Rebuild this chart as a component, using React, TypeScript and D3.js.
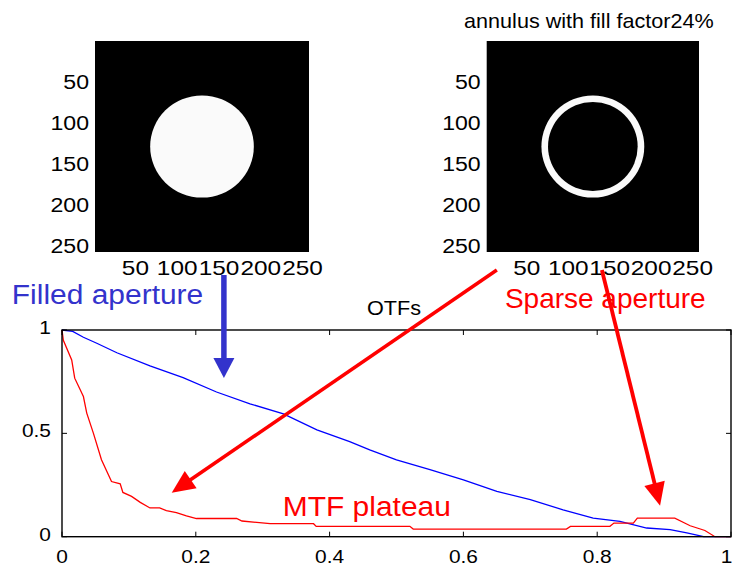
import React from "react";
import * as d3 from "d3";

// ---------- data ----------
const imageTicks = [50, 100, 150, 200, 250];
const imageSize = 256;
const apertureCenter = 128.5;
const apertureRadius = 62;
const fillFactor = 0.24;

const otfXTicks = [0, 0.2, 0.4, 0.6, 0.8, 1];
const otfYTicks = [0, 0.5, 1];
const otfXTickLabels = ["0", "0.2", "0.4", "0.6", "0.8", "1"];
const otfYTickLabels = ["0", "0.5", "1"];

const filledX = [0, 0.016, 0.032, 0.052, 0.082, 0.1315, 0.181, 0.231, 0.281, 0.331, 0.381, 0.43, 0.46, 0.5, 0.55, 0.6, 0.65, 0.7, 0.749, 0.794, 0.834, 0.874, 0.909, 0.934, 0.959, 1.0];
const filledY = [1.0, 0.993, 0.965, 0.936, 0.89, 0.826, 0.77, 0.7, 0.643, 0.594, 0.517, 0.46, 0.42, 0.372, 0.324, 0.275, 0.219, 0.179, 0.13, 0.09, 0.074, 0.042, 0.034, 0.018, 0, 0];

const sparseX = [0, 0.002, 0.0145, 0.019, 0.032, 0.037, 0.047, 0.059, 0.074, 0.087, 0.091, 0.104, 0.117, 0.1315, 0.146, 0.156, 0.171, 0.186, 0.201, 0.261, 0.269, 0.311, 0.376, 0.38, 0.52, 0.525, 0.754, 0.76, 0.819, 0.825, 0.854, 0.86, 0.916, 0.939, 0.961, 0.976, 1.0];
const sparseY = [1.0, 0.95, 0.855, 0.767, 0.678, 0.598, 0.5, 0.372, 0.267, 0.256, 0.214, 0.195, 0.166, 0.139, 0.139, 0.126, 0.117, 0.101, 0.088, 0.088, 0.076, 0.063, 0.063, 0.05, 0.05, 0.037, 0.037, 0.05, 0.05, 0.066, 0.066, 0.09, 0.09, 0.053, 0.03, 0, 0];

// annotation arrows in OTF data coordinates: [x0, y0, x1(tip), y1(tip)]
const blueArrow = [0.242, 1.266, 0.242, 0.768];
const redArrow1 = [0.65, 1.29, 0.164, 0.213];
const redArrow2 = [0.807, 1.29, 0.894, 0.15];

const FONT = "'Liberation Sans', Arial, Helvetica, sans-serif";
const BLUE_ANN = "#3333cc";

function T({ x, y, size, sx = 1.08, anchor = "start", fill = "#000", children }: any) {
  return (
    <g transform={`translate(${x},${y}) scale(${sx},1)`}>
      <text x={0} y={0} fontSize={size} fontFamily={FONT} textAnchor={anchor} fill={fill}>
        {children}
      </text>
    </g>
  );
}

function ImagePanel({ x0, x1, y0, y1, annulus, title }: any) {
  const xs = d3.scaleLinear().domain([0.5, imageSize + 0.5]).range([x0, x1]);
  const ys = d3.scaleLinear().domain([0.5, imageSize + 0.5]).range([y0, y1]);
  const cx = xs(apertureCenter);
  const cy = ys(apertureCenter);
  const rx = xs(apertureCenter + apertureRadius) - cx;
  const ry = ys(apertureCenter + apertureRadius) - cy;
  const k = Math.sqrt(1 - fillFactor);
  return (
    <g>
      <rect x={x0} y={y0} width={x1 - x0} height={y1 - y0} fill="#000" />
      <ellipse cx={cx} cy={cy} rx={rx} ry={ry} fill="#fafafa" />
      {annulus && <ellipse cx={cx} cy={cy} rx={rx * k} ry={ry * k} fill="#000" />}
      {imageTicks.map((t) => (
        <T key={"y" + t} x={x0 - 6} y={ys(t) + 6.8} size={21} sx={1.1} anchor="end">{t}</T>
      ))}
      {imageTicks.map((t) => (
        <T key={"x" + t} x={xs(t) - 1} y={274.5} size={21} sx={1.16} anchor="middle">{t}</T>
      ))}
      {title && (
        <T x={(x0 + x1) / 2 - 4} y={27.5} size={20} sx={1.08} anchor="middle">{title}</T>
      )}
    </g>
  );
}

function Arrow({ pts, xs, ys, color, width, headLen, headW }: any) {
  const [a, b, c, d] = pts;
  const X0 = xs(a), Y0 = ys(b), X1 = xs(c), Y1 = ys(d);
  const dx = X1 - X0, dy = Y1 - Y0;
  const L = Math.hypot(dx, dy);
  const ux = dx / L, uy = dy / L;
  const bx = X1 - ux * headLen, by = Y1 - uy * headLen;
  const px = -uy, py = ux;
  const head = `M${X1},${Y1}L${bx + px * headW / 2},${by + py * headW / 2}L${bx - px * headW / 2},${by - py * headW / 2}Z`;
  return (
    <g>
      <line x1={X0} y1={Y0} x2={bx + ux * 2} y2={by + uy * 2} stroke={color} strokeWidth={width} />
      <path d={head} fill={color} />
    </g>
  );
}

export default function App() {
  const left = 62, right = 731, top = 330, bottom = 536.7;
  const xs = d3.scaleLinear().domain([0, 1]).range([left, right]);
  const ys = d3.scaleLinear().domain([0, 1]).range([bottom, top]);
  const filledPath = d3.line<number>()
    .x((v) => xs(v))
    .y((_, i) => ys(filledY[i]))(filledX) as string;
  const sparsePath = d3.line<number>()
    .x((v) => xs(v))
    .y((_, i) => ys(sparseY[i]))(sparseX) as string;
  const tl = 5;
  return (
    <svg width={733} height={566} style={{ position: "absolute", left: 0, top: 0, background: "#fff" }}>
      <rect x={0} y={0} width={733} height={566} fill="#fff" />
      <ImagePanel x0={95} x1={309} y0={41} y1={252} annulus={false} />
      <ImagePanel x0={486.7} x1={699} y0={41} y1={252} annulus={true} title="annulus with fill factor24%" />

      {/* OTF axes */}
      <g>
        <path d={filledPath} fill="none" stroke="#0000ff" strokeWidth={1.3} />
        <path d={sparsePath} fill="none" stroke="#ff0000" strokeWidth={1.3} />
        <rect x={left} y={top} width={right - left} height={bottom - top} fill="none" stroke="#000" strokeWidth={1.4} />
        {otfXTicks.map((t, i) => {
          const last = i === otfXTicks.length - 1;
          return (
            <g key={"xt" + t}>
              <line x1={xs(t)} x2={xs(t)} y1={bottom} y2={bottom - tl} stroke="#000" strokeWidth={1} />
              <line x1={xs(t)} x2={xs(t)} y1={top} y2={top + tl} stroke="#000" strokeWidth={1} />
              <T x={last ? 732.5 : xs(t)} y={563.3} size={19} sx={1.1} anchor={last ? "end" : "middle"}>{otfXTickLabels[i]}</T>
            </g>
          );
        })}
        {otfYTicks.map((t, i) => (
          <g key={"yt" + t}>
            <line x1={left} x2={left + tl} y1={ys(t)} y2={ys(t)} stroke="#000" strokeWidth={1} />
            <line x1={right} x2={right - tl} y1={ys(t)} y2={ys(t)} stroke="#000" strokeWidth={1} />
            <T x={51} y={ys(t) + 3.8} size={19} sx={1.1} anchor="end">{otfYTickLabels[i]}</T>
          </g>
        ))}
        <T x={394} y={315} size={21} sx={1.03} anchor="middle">OTFs</T>
      </g>

      {/* annotations */}
      <T x={xs(-0.075)} y={ys(1.126)} size={28} sx={1.07} fill={BLUE_ANN}>Filled aperture</T>
      <T x={xs(0.662)} y={ys(1.106)} size={28} sx={1.0} fill="#ff0000">Sparse aperture</T>
      <T x={xs(0.33)} y={ys(0.098)} size={28} sx={1.07} fill="#ff0000">MTF plateau</T>

      <Arrow pts={blueArrow} xs={xs} ys={ys} color={BLUE_ANN} width={5.5} headLen={20} headW={21} />
      <Arrow pts={redArrow1} xs={xs} ys={ys} color="#ff0000" width={3.5} headLen={23} headW={21} />
      <Arrow pts={redArrow2} xs={xs} ys={ys} color="#ff0000" width={3.8} headLen={23} headW={21} />
    </svg>
  );
}
